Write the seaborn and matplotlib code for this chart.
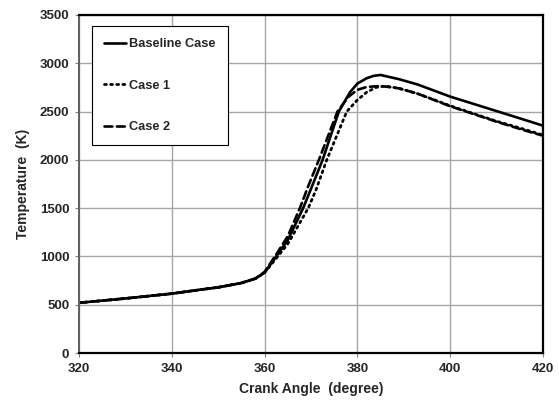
import pandas as pd
import matplotlib
matplotlib.use("Agg")
import matplotlib.pyplot as plt
import seaborn as sns

# Data
base_angle = [320, 330, 340, 346, 350, 355, 358, 360, 362.5, 365, 368.3, 370, 372.5,
              376, 378.4, 380, 382, 383.5, 385, 389, 393, 400, 405, 410, 415, 420]
base_temp = [520, 565, 615, 655, 680, 725, 770, 832, 1000, 1170, 1500, 1700, 2000,
             2500, 2700, 2790, 2845, 2870, 2879, 2835, 2780, 2655, 2580, 2505, 2430, 2354]

case1_angle = [320, 330, 340, 346, 350, 355, 358, 360, 362.5, 365, 369.4, 371, 373.4,
               377.7, 380, 382, 384, 386, 389, 393, 400, 405, 410, 415, 420]
case1_temp = [520, 565, 615, 655, 680, 725, 770, 832, 980, 1130, 1500, 1680, 2000,
              2500, 2620, 2700, 2750, 2765, 2740, 2685, 2560, 2480, 2400, 2330, 2257]

case2_angle = [320, 330, 340, 346, 350, 355, 358, 360, 362.5, 365, 367.6, 369.5, 371.7,
               375.7, 378, 380, 382, 385, 389, 393, 400, 405, 410, 415, 420]
case2_temp = [520, 565, 615, 655, 680, 725, 772, 840, 1020, 1210, 1500, 1740, 2000,
              2500, 2650, 2725, 2755, 2765, 2740, 2685, 2555, 2475, 2395, 2320, 2250]

x_ticks = [320, 340, 360, 380, 400, 420]
y_ticks = [0, 500, 1000, 1500, 2000, 2500, 3000, 3500]

sns.set_style("whitegrid")
plt.rcParams['font.family'] = ['Liberation Sans', 'DejaVu Sans']
plt.rcParams['font.weight'] = 'bold'

fig = plt.figure(figsize=(5.59, 4.03), dpi=100)
ax = fig.add_axes([0.1413, 0.124, 0.8301, 0.8388])

series = [
    ("Baseline Case", base_angle, base_temp, "-", 1.9),
    ("Case 1", case1_angle, case1_temp, (0, (0.7, 1.5)), 2.0),
    ("Case 2", case2_angle, case2_temp, (0, (3.0, 1.7)), 1.9),
]
for name, xs, ys, ls, lw in series:
    df = pd.DataFrame({"angle": xs, "temp": ys})
    sns.lineplot(data=df, x="angle", y="temp", ax=ax, color="black",
                 linestyle=ls, linewidth=lw, label=name,
                 dash_capstyle="round", solid_capstyle="round",
                 solid_joinstyle="round")

ax.set_xlim(320, 420)
ax.set_ylim(0, 3500)
ax.set_xticks(x_ticks)
ax.set_yticks(y_ticks)
ax.grid(True, color="#a6a6a6", linewidth=1.0)
ax.tick_params(axis="both", labelsize=9.5, length=3, width=0.8, color="#808080",
               direction="out", left=True, bottom=True, pad=4)
for lab in ax.get_xticklabels() + ax.get_yticklabels():
    lab.set_fontweight("bold")

for side in ["top", "right", "bottom"]:
    ax.spines[side].set_color("black")
    ax.spines[side].set_linewidth(1.6)
ax.spines["left"].set_color("#606060")
ax.spines["left"].set_linewidth(1.4)

ax.set_xlabel("Crank Angle  (degree)", fontsize=10, fontweight="bold", labelpad=5)
ax.set_ylabel("Temperature  (K)", fontsize=10, fontweight="bold", labelpad=7)

leg = ax.legend(loc="upper left", bbox_to_anchor=(0.028, 0.967), borderaxespad=0,
                frameon=True, fancybox=False, edgecolor="black", framealpha=1,
                prop={"size": 9.2, "weight": "bold"}, handlelength=1.7,
                handletextpad=0.25, labelspacing=2.3, borderpad=0.95)
leg.get_frame().set_linewidth(0.8)

fig.savefig("out.png", dpi=100)
